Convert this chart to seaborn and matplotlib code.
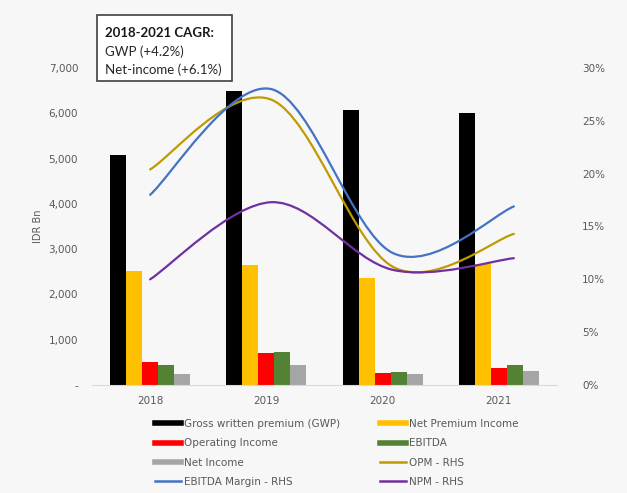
import numpy as np
import pandas as pd
import matplotlib
matplotlib.use("Agg")
import matplotlib.pyplot as plt
import seaborn as sns
from matplotlib.path import Path
from matplotlib.patches import PathPatch, Rectangle
from matplotlib.lines import Line2D
from matplotlib.ticker import FuncFormatter, FixedLocator

years = ["2018", "2019", "2020", "2021"]
gwp = [5080, 6490, 6070, 6000]
npi = [2520, 2650, 2360, 2670]
op_income = [510, 710, 265, 375]
ebitda = [450, 730, 290, 440]
net_income = [250, 450, 250, 310]
opm = [20.4, 27.0, 11.2, 14.3]
ebitda_margin = [18.0, 28.0, 12.5, 16.9]
npm = [10.0, 17.3, 10.9, 12.0]

bar_names = ["Gross written premium (GWP)", "Net Premium Income", "Operating Income", "EBITDA", "Net Income"]
bar_colors = ["#000000", "#FFC000", "#FF0000", "#548235", "#A5A5A5"]
line_names = ["OPM - RHS", "EBITDA Margin - RHS", "NPM - RHS"]
line_colors = ["#BF9B00", "#4472C4", "#7030A0"]

bg = "#f7f7f7"
txt = "#595959"

df = pd.DataFrame({
    "year": np.repeat(years, 5),
    "series": bar_names * 4,
    "value": np.array([gwp, npi, op_income, ebitda, net_income]).T.ravel(),
})

fig = plt.figure(figsize=(6.27, 4.93), dpi=100, facecolor=bg)
ax = fig.add_axes([92/627, 1-385/493, (557-92)/627, (385-68)/493])
ax.set_facecolor(bg)
sns.barplot(data=df, x="year", y="value", hue="series", hue_order=bar_names,
            palette=bar_colors, width=0.69, saturation=1, ax=ax, legend=False)
ax.set_xlim(-0.5, 3.5)
ax.set_ylim(0, 7000)
ax.yaxis.set_major_locator(FixedLocator(np.arange(0, 7001, 1000)))
ax.yaxis.set_major_formatter(FuncFormatter(lambda v, p: "-" if v == 0 else f"{int(v):,}"))
for s in ["top", "right", "left"]:
    ax.spines[s].set_visible(False)
ax.spines["bottom"].set_color("#d9d9d9")
ax.tick_params(axis="both", length=0, labelsize=7.5, colors=txt)
ax.tick_params(axis="y", pad=10)
ax.tick_params(axis="x", pad=8)
ax.set_xlabel("")
ax.set_ylabel("IDR Bn", fontsize=7, color=txt, labelpad=4)

ax2 = ax.twinx()
ax2.set_ylim(0, 30)
ax2.yaxis.set_major_locator(FixedLocator(np.arange(0, 31, 5)))
ax2.yaxis.set_major_formatter(FuncFormatter(lambda v, p: f"{int(v)}%"))
ax2.tick_params(axis="y", length=0, labelsize=7.5, colors=txt, pad=18)
for s in ["top", "right", "left", "bottom"]:
    ax2.spines[s].set_visible(False)

line_x = np.arange(4) * 1.043

def smooth_path(xs, ys):
    pts = np.column_stack([xs, ys]).astype(float)
    ext = np.vstack([pts[0], pts, pts[-1]])
    verts = [tuple(pts[0])]
    codes = [Path.MOVETO]
    for i in range(len(pts) - 1):
        p0, p1, p2, p3 = ext[i], ext[i+1], ext[i+2], ext[i+3]
        c1 = p1 + (p2 - p0) / 6
        c2 = p2 - (p3 - p1) / 6
        verts += [tuple(c1), tuple(c2), tuple(p2)]
        codes += [Path.CURVE4] * 3
    return Path(verts, codes)

for vals, col in zip([opm, ebitda_margin, npm], line_colors):
    ax2.add_patch(PathPatch(smooth_path(line_x, vals), facecolor="none",
                            edgecolor=col, lw=1.6, capstyle="round"))
ax2.set_xlim(-0.5, 3.5)

# legend
h = {n: Line2D([], [], color=c, lw=4) for n, c in zip(bar_names, bar_colors)}
h.update({n: Line2D([], [], color=c, lw=1.8) for n, c in zip(line_names, line_colors)})
order = ["Gross written premium (GWP)", "Operating Income", "Net Income", "EBITDA Margin - RHS",
         "Net Premium Income", "EBITDA", "OPM - RHS", "NPM - RHS"]
leg = fig.legend([h[o] for o in order], order, ncol=2, loc="upper left",
                 bbox_to_anchor=(155/627, 1-419/493), frameon=False, fontsize=7.5,
                 handlelength=2.5, handletextpad=0.3, columnspacing=3.8,
                 labelspacing=0.9, borderaxespad=0, borderpad=0)
for t in leg.get_texts():
    t.set_color(txt)

# CAGR box
fig.patches.append(Rectangle((97/627, 1-81/493), 135/627, 66/493, transform=fig.transFigure,
                             facecolor="white", edgecolor="#404040", lw=1.2, figure=fig))
fig.text(105/627, 1-33/493, "2018-2021 CAGR:", fontsize=9.5, fontweight="bold",
         family="Lato", color="#1a1a1a", va="center")
fig.text(105/627, 1-52/493, "GWP (+4.2%)", fontsize=9.5, family="Lato", color="#262626", va="center")
fig.text(105/627, 1-70/493, "Net-income (+6.1%)", fontsize=9.5, family="Lato", color="#262626", va="center")

fig.savefig("out.png", dpi=100, facecolor=bg)
